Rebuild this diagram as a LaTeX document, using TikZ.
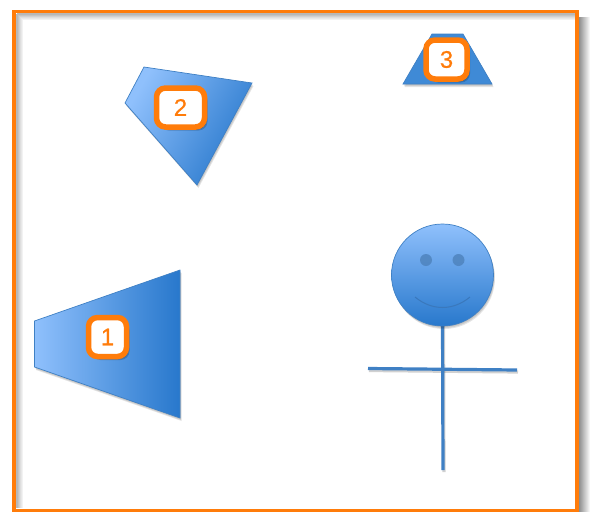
\documentclass[tikz,border=0pt]{standalone}
\usepackage{fontspec}
\newfontfamily\badgefont[FakeBold=0.6]{Liberation Sans}
\usetikzlibrary{shadows}
\definecolor{frameorange}{HTML}{FF7C0A}
\definecolor{shapelight}{HTML}{8FC0FC}
\definecolor{shapedark}{HTML}{2878CC}
\definecolor{shapeflat}{HTML}{3F8AD6}
\definecolor{shapeline}{HTML}{3F80C4}
\definecolor{eyeblue}{HTML}{4F84BE}
\definecolor{smileblue}{HTML}{3A78BC}
% three offset copies give a soft edge
\tikzstyle{softshadow} = [drop shadow={fill=black, opacity=0.07, shadow xshift=0.5pt, shadow yshift=-1pt},
drop shadow={fill=black, opacity=0.1, shadow xshift=1pt, shadow yshift=-2pt},
drop shadow={fill=black, opacity=0.1, shadow xshift=1.5pt, shadow yshift=-3pt}]
\tikzstyle{badgeshadow} = [drop shadow={fill=black, opacity=0.15, shadow xshift=1pt, shadow yshift=-1.5pt},
drop shadow={fill=black, opacity=0.18, shadow xshift=2pt, shadow yshift=-2.5pt},
drop shadow={fill=black, opacity=0.18, shadow xshift=3pt, shadow yshift=-3.5pt}]
\tikzstyle{solid shape} = [draw=shapeline, line width=0.7pt, softshadow]
\tikzstyle{badge} = [rectangle, rounded corners=9pt, draw=frameorange, line width=5.5pt, fill=white,
minimum height=39pt, text=frameorange, font=\badgefont\fontsize{24}{24}\selectfont, text centered, inner sep=0pt,
badgeshadow]
\tikzstyle{limb} = [draw=shapeline, line width=3.2pt]
\tikzstyle{limbshadow} = [draw=black, opacity=0.18, line width=3.2pt]

\begin{document}
\begin{tikzpicture}[x=1pt, y=-1pt]
    \useasboundingbox (0,0) rectangle (590,512);
    % Frame shadow and frame
    \foreach \gap/\shade in {12/4, 11/8, 10/12, 9/16, 8/20, 7/24, 6/28, 5/32, 4/36, 3/40, 2/44}
      \draw [line width=1.2pt, black!\shade] (577+\gap,17) -- (577+\gap,512);
    \foreach \gap/\shade in {6/5, 5/9, 4/13, 3/18, 2/23, 1/28}
      \draw [line width=1.2pt, black!\shade] (16+\gap,13+\gap) -- (16+\gap,508);
    \foreach \gap/\shade in {6/5, 5/9, 4/13, 3/18, 2/23, 1/28}
      \draw [line width=1.2pt, black!\shade] (16+\gap,13+\gap) -- (575,13+\gap);
    \draw [frameorange, line width=3.8pt] (14,11.5) rectangle (577,510.5);
    % Solid shapes
    \path [solid shape, left color=shapelight, right color=shapedark] (34.5,321) -- (180,270) -- (180,418) -- (34.5,367) -- cycle;
    \path [solid shape, left color=shapelight, right color=shapedark, shading angle=60] (144,67) -- (252,83) -- (197,185) -- (125,103) -- cycle;
    \path [solid shape, fill=shapeflat] (432,34) -- (463,34) -- (492,84) -- (403,84) -- cycle;
    % Stick figure
    \coordinate (foot) at (443,470);
    \coordinate (armleft) at (368,368.5);
    \coordinate (armright) at (517,370);
    \path [limbshadow] (443.5,320) -- ([xshift=1pt,yshift=-2pt]foot);
    \path [limbshadow] ([xshift=1pt,yshift=-2pt]armleft) -- ([xshift=1pt,yshift=-2pt]armright);
    \path [limb] (442.5,320) -- (foot);
    \path [limb] (armleft) -- (armright);
    \node (head) [circle, minimum size=102pt, inner sep=0pt, draw=shapeline, line width=0.7pt,
    top color=shapelight, bottom color=shapedark, softshadow] at (442.5,275) {};
    \node (eyeleft) [circle, minimum size=12pt, inner sep=0pt, fill=eyeblue, opacity=0.85] at (426,260) {};
    \node (eyeright) [circle, minimum size=12pt, inner sep=0pt, fill=eyeblue, opacity=0.85] at (458.5,260) {};
    \coordinate (smileleft) at (415,297);
    \coordinate (smileright) at (470,297);
    \draw [smileblue, line width=1pt] (smileleft) .. controls (432,311) and (453,311) .. (smileright);
    % Number badges
    \node (one) [badge, minimum width=38pt] at (107.5,337) {1};
    \node (two) [badge, minimum width=48pt] at (180.5,107.5) {2};
    \node (three) [badge, minimum width=41pt] at (446.5,59.5) {3};
\end{tikzpicture}
\end{document}
